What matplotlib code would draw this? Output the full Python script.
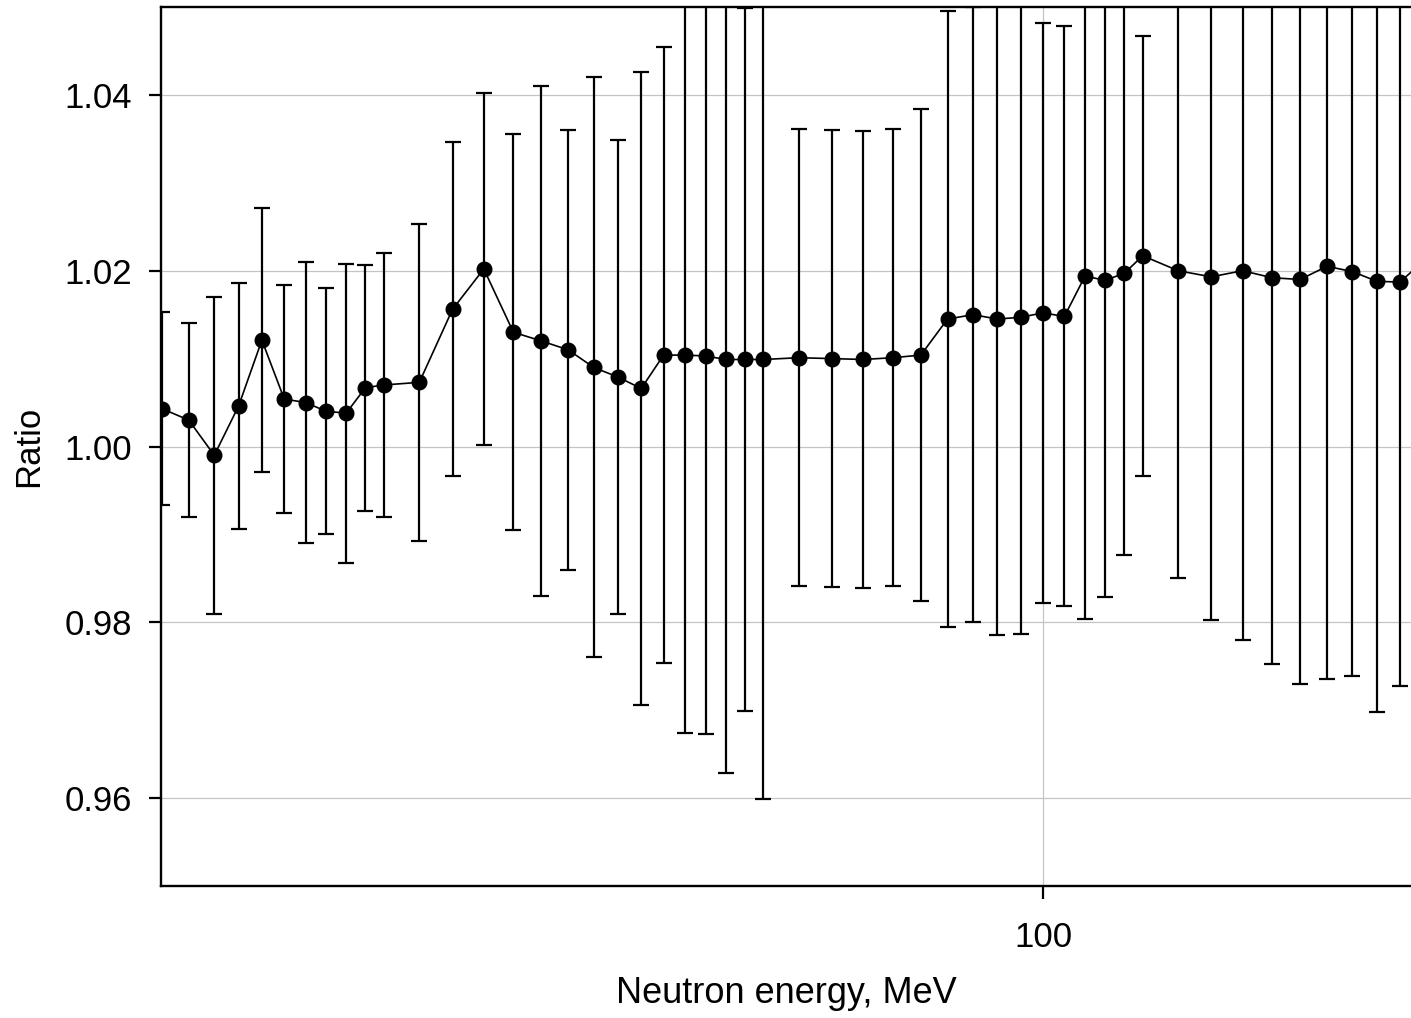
import numpy as np
import matplotlib
matplotlib.use("Agg")
import matplotlib.pyplot as plt
from matplotlib.ticker import FixedLocator, NullLocator, FixedFormatter

plt.rcParams['font.family'] = ['Liberation Sans', 'DejaVu Sans']

# neutron energy bins, MeV
energy = [20, 21, 22, 23, 24, 25, 26, 27, 28, 29, 30,
          32, 34, 36, 38, 40, 42, 44, 46, 48, 50, 52, 54, 56, 58, 60,
          64, 68, 72, 76, 80, 84, 88, 92, 96, 100, 104, 108, 112, 116, 120,
          128, 136, 144, 152, 160, 168, 176, 184, 192, 200]

ratio = [1.0043, 1.0030, 0.9990, 1.0046, 1.0121, 1.0054, 1.0050, 1.0040, 1.0038, 1.0067, 1.0070,
         1.0073, 1.0156, 1.0202, 1.0130, 1.0120, 1.0110, 1.0090, 1.0079, 1.0066, 1.0104,
         1.0104, 1.0103, 1.0099, 1.0099, 1.0099,
         1.0101, 1.0100, 1.0099, 1.0101, 1.0104, 1.0145, 1.0150, 1.0145, 1.0147, 1.0152,
         1.0148, 1.0194, 1.0189, 1.0197, 1.0217,
         1.0200, 1.0193, 1.0200, 1.0192, 1.0190, 1.0205, 1.0199, 1.0188, 1.0187, 1.0210]

# symmetric error on each ratio
err = [0.011, 0.011, 0.018, 0.014, 0.015, 0.013, 0.016, 0.014, 0.017, 0.014, 0.015,
       0.018, 0.019, 0.020, 0.0225, 0.029, 0.025, 0.033, 0.027, 0.036, 0.035,
       0.043, 0.043, 0.047, 0.040, 0.050,
       0.026, 0.026, 0.026, 0.026, 0.028, 0.035, 0.035, 0.036, 0.036, 0.033,
       0.033, 0.039, 0.036, 0.032, 0.025,
       0.035, 0.039, 0.042, 0.044, 0.046, 0.047, 0.046, 0.049, 0.046, 0.047]

yticks = [0.96, 0.98, 1.00, 1.02, 1.04]

fig = plt.figure(figsize=(14.11, 10.18), dpi=100)
ax = fig.add_axes([161 / 1411, 132 / 1018, 1250 / 1411, 879 / 1018])

ax.errorbar(energy, ratio, yerr=err, fmt='none', ecolor='black',
            elinewidth=1.6, capsize=5.8, capthick=1.6, zorder=2)
ax.plot(energy, ratio, color='black', linewidth=1.2, marker='o',
        markersize=10.5, markerfacecolor='black', markeredgecolor='black', zorder=3)

ax.set_xscale('log')
ax.set_xlim(19.96, 195.9)
ax.set_ylim(0.95, 1.05)
ax.xaxis.set_major_locator(FixedLocator([100]))
ax.xaxis.set_major_formatter(FixedFormatter(['100']))
ax.xaxis.set_minor_locator(NullLocator())
ax.set_yticks(yticks)
ax.set_yticklabels(['%.2f' % v for v in yticks])

ax.grid(True, color='#c4c4c4', linewidth=0.9, zorder=0)
ax.set_axisbelow(True)

for side in ['left', 'bottom', 'top']:
    ax.spines[side].set_linewidth(1.7)
ax.spines['right'].set_visible(False)

ax.tick_params(axis='both', direction='out', length=9, width=1.6,
               labelsize=25, colors='black')
ax.tick_params(axis='x', pad=16)
ax.tick_params(axis='y', pad=12)
ax.set_xlabel('Neutron energy, MeV', fontsize=26, labelpad=16)
ax.set_ylabel('Ratio', fontsize=25, labelpad=14)

fig.savefig('out.png', dpi=100)
